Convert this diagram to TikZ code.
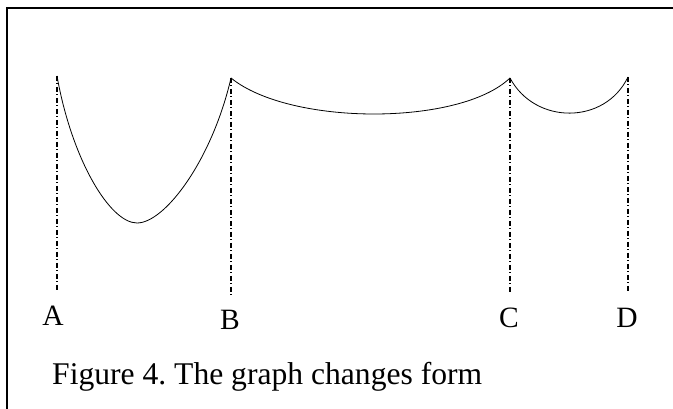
\documentclass[tikz,border=0pt]{standalone}
\usepackage{fontspec}
\setmainfont{Liberation Serif}
\usetikzlibrary{positioning}
\frenchspacing

\begin{document}
\begin{tikzpicture}[x=1pt, y=-1pt,
    guide/.style={line width=1.2pt, dash pattern=on 5pt off 2.5pt on 1pt off 2.5pt},
    curve/.style={line width=0.8pt},
    letter/.style={anchor=base, inner sep=0pt, font=\fontsize{29.5}{29.5}\selectfont}]
    \useasboundingbox (0,0) rectangle (673,409);
    \draw[line width=1.6pt] (7,409) -- (7,8) -- (673,8);

    % tops and feet of the guide lines
    \coordinate (topA) at (57,76);
    \coordinate (topB) at (231,78);
    \coordinate (topC) at (510,78);
    \coordinate (topD) at (628,77);
    \coordinate (footA) at (57,292);
    \coordinate (footB) at (231,295);
    \coordinate (footC) at (510,293);
    \coordinate (footD) at (628,293);

    \node[letter] (A) at (53,326) {A};
    \node[letter] (B) at (230,330) {B};
    \node[letter] (C) at (509,327) {C};
    \node[letter] (D) at (627,327) {D};

    \draw[guide] (topA) -- (footA);
    \draw[guide] (topB) -- (footB);
    \draw[guide] (topC) -- (footC);
    \draw[guide] (topD) -- (footD);

    \draw[curve] (topA) .. controls (72,160) and (110,223) .. (137,223)
        .. controls (165,223) and (212,160) .. (topB);
    \draw[curve] (topB) .. controls (290,126) and (460,126) .. (topC);
    \draw[curve] (topC) .. controls (535,125) and (605,125) .. (topD);

    \node[anchor=base west, inner sep=0pt, font=\fontsize{31.6}{31.6}\selectfont]
        (caption) at (52,384) {Figure 4. The graph changes form};
\end{tikzpicture}
\end{document}
